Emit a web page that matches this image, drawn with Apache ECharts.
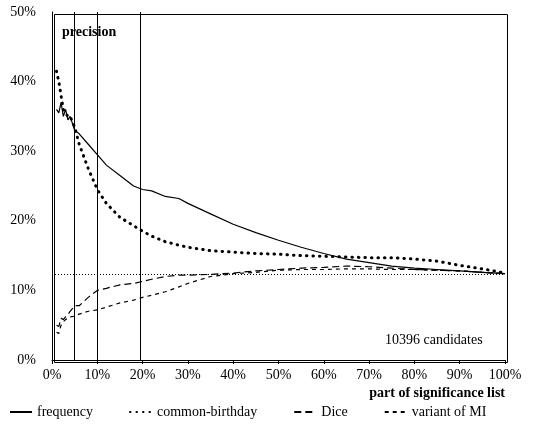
<!DOCTYPE html>
<html><head><meta charset="utf-8">
<script src="https://cdn.jsdelivr.net/npm/echarts@6/dist/echarts.min.js"></script>
<style>body{margin:0}#c{width:533px;height:424px}</style></head>
<body><div id="c"></div>
<script>
// x = part of significance list (%), y = precision (%)
var xs = [1, 1.5, 2, 2.5, 3, 3.5, 4, 5, 6, 8, 10, 12, 15, 18, 20, 22, 25, 28, 30, 35, 40, 45, 50, 55, 60, 65, 70, 75, 80, 85, 90, 95, 100];
var frequency = [36, 35.5, 37, 35, 36, 34.5, 35, 33, 32.5, 31, 29.5, 28, 26.5, 25, 24.5, 24.3, 23.5, 23.2, 22.5, 21, 19.5, 18.3, 17.2, 16.2, 15.3, 14.5, 14, 13.5, 13.2, 13, 12.8, 12.6, 12.4];
var birthday = [41.5, 40, 38, 36, 35.5, 35, 35, 33.5, 31, 27.5, 24.5, 22.5, 20.5, 19.3, 18.5, 17.8, 17, 16.5, 16.2, 15.7, 15.5, 15.3, 15.2, 15, 14.9, 14.8, 14.7, 14.7, 14.5, 14.2, 13.6, 13.1, 12.5];
var dice = [5, 4.8, 6, 5.8, 6.2, 6.5, 7, 7.8, 7.8, 9, 10, 10.3, 10.8, 11, 11.3, 11.6, 12, 12.2, 12.2, 12.3, 12.5, 12.8, 13, 13.2, 13.3, 13.5, 13.4, 13.2, 13, 12.9, 12.8, 12.6, 12.4];
var mi = [4, 3.8, 5, 5.5, 5.8, 6, 6.2, 6.3, 6.6, 7, 7.2, 7.6, 8.2, 8.6, 9, 9.3, 9.8, 10.5, 11, 12, 12.4, 12.6, 12.9, 13, 13, 13.1, 13.1, 13, 13, 12.9, 12.8, 12.6, 12.4];
var vlines = [5, 10, 19.5];
var baseline = 12.3;

function pts(arr){ return xs.map(function(x,i){ return [x, arr[i]]; }); }
var font = 'Liberation Serif';
var chart = echarts.init(document.getElementById('c'));
chart.setOption({
  animation: false,
  color: ['#000', '#000', '#000', '#000'],
  textStyle: {fontFamily: font, color: '#000'},
  grid: {left: 52, right: 28, top: 12, bottom: 64, outerBoundsMode: 'none', containLabel: false},
  xAxis: {type: 'value', min: 0, max: 100, interval: 10,
    name: 'part of significance list', nameLocation: 'end', nameGap: 0,
    nameTextStyle: {fontWeight: 'bold', fontSize: 14, fontFamily: font, align: 'right', verticalAlign: 'top', padding: [26, 0, 0, 0]},
    axisLine: {lineStyle: {color: '#000'}}, axisTick: {length: 4, lineStyle: {color: '#000'}},
    axisLabel: {formatter: '{value}%', fontSize: 14, fontFamily: font, color: '#000', margin: 8}, splitLine: {show: false}},
  yAxis: {type: 'value', min: 0, max: 50, interval: 10,
    axisLine: {show: true, lineStyle: {color: '#000'}}, axisTick: {show: false},
    axisLabel: {formatter: '{value}%', fontSize: 14, fontFamily: font, color: '#000', margin: 16}, splitLine: {show: false}},
  legend: {bottom: 0, left: 4, itemWidth: 22, itemHeight: 8, itemGap: 36, textStyle: {fontSize: 14, fontFamily: font, color: '#000'},
    itemStyle: {opacity: 0},
    data: ['frequency', 'common-birthday', 'Dice', 'variant of MI']},
  graphic: [
    {type: 'rect', left: 52, top: 12, shape: {width: 453, height: 348}, style: {fill: 'none', stroke: '#000', lineWidth: 1}, silent: true},
    {type: 'text', left: 62, top: 25, style: {text: 'precision', font: 'bold 14px ' + font, fill: '#000'}},
    {type: 'text', left: 385, top: 333, style: {text: '10396 candidates', font: '14px ' + font, fill: '#000'}}
  ],
  series: [
    {name: 'frequency', type: 'line', data: pts(frequency), symbol: 'none', lineStyle: {color: '#000', width: 1.2},
      markLine: {silent: true, symbol: 'none', label: {show: false}, lineStyle: {color: '#000', type: 'solid', width: 1},
        data: vlines.map(function(v){ return {xAxis: v}; }).concat([{yAxis: baseline, lineStyle: {type: [1, 2], width: 1}}])}},
    {name: 'common-birthday', type: 'line', data: pts(birthday), symbol: 'none', lineStyle: {color: '#000', width: 3, type: [0.5, 6], cap: 'round'}},
    {name: 'Dice', type: 'line', data: pts(dice), symbol: 'none', lineStyle: {color: '#000', width: 1.2, type: [7, 4]}},
    {name: 'variant of MI', type: 'line', data: pts(mi), symbol: 'none', lineStyle: {color: '#000', width: 1.2, type: [4, 4]}}
  ]
});
</script></body></html>
